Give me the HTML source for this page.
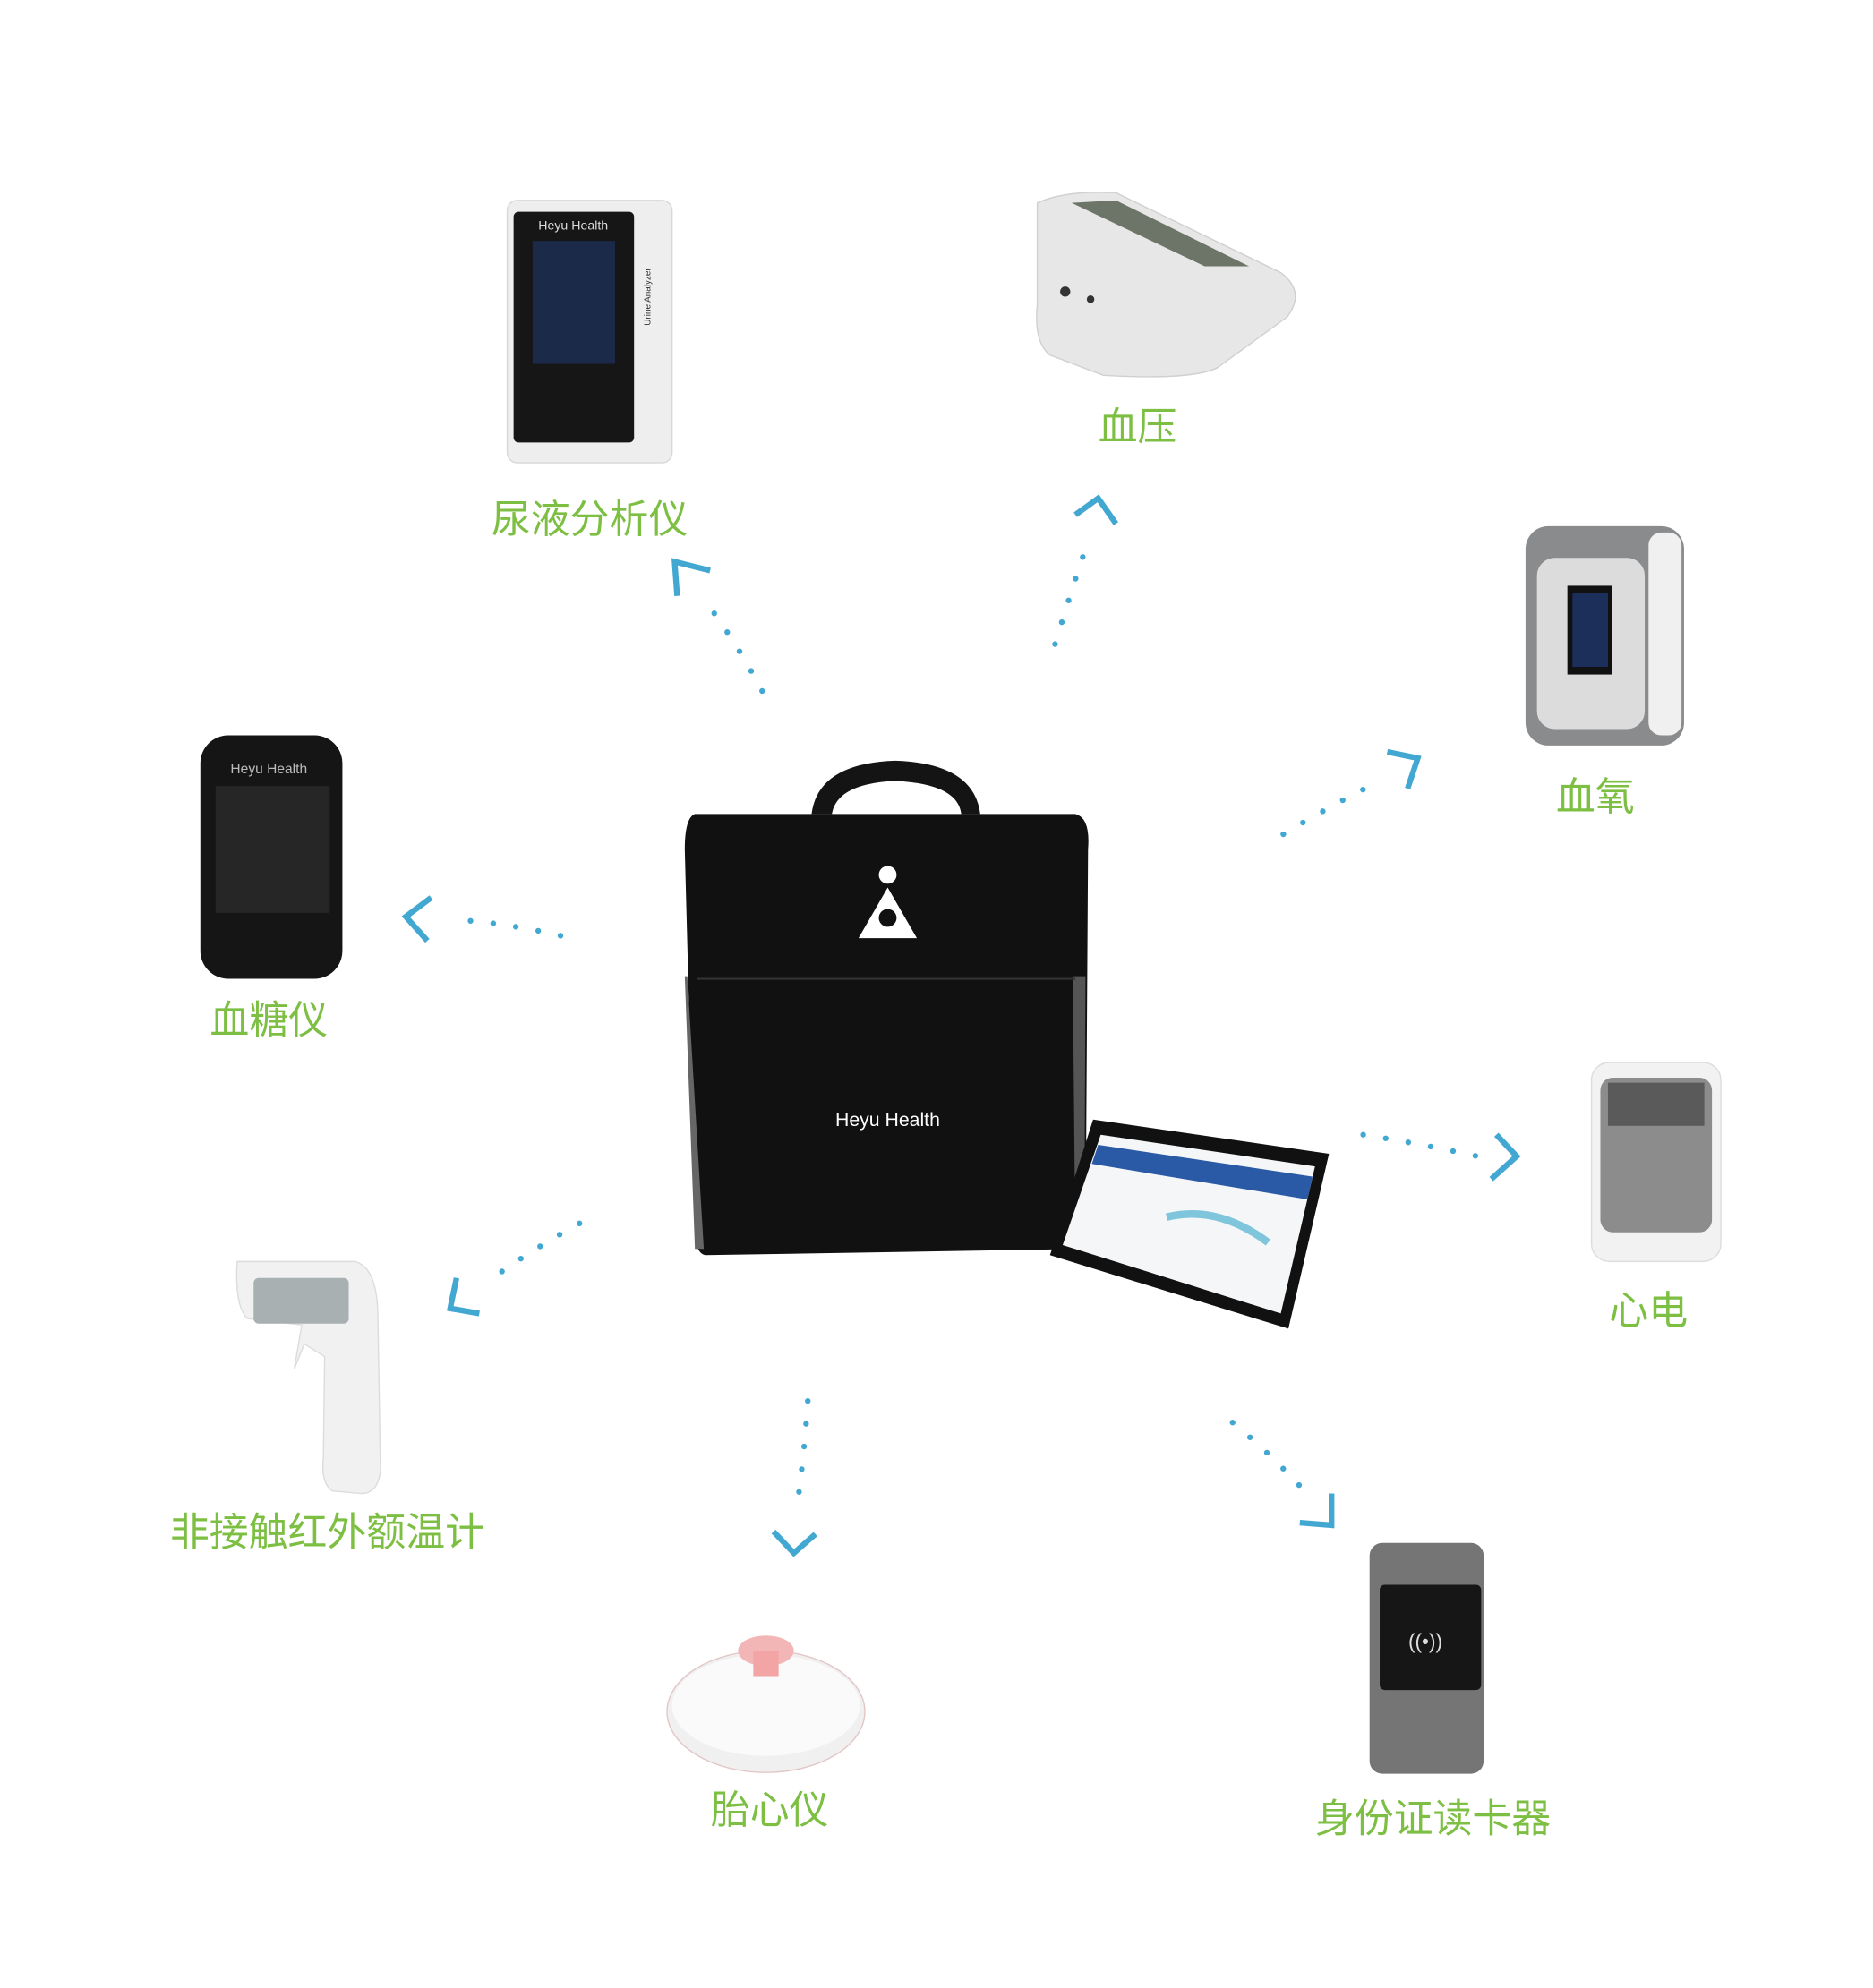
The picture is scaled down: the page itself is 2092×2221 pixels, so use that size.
<!DOCTYPE html>
<html><head><meta charset="utf-8"><style>
html,body{margin:0;padding:0;background:#fff;}
svg{display:block;}
.lb{font-family:"Liberation Sans","Noto Sans CJK SC",sans-serif;font-size:31px;fill:#7dbf42;text-anchor:middle;}
.d{stroke:#42a8d2;stroke-width:4.5;stroke-linecap:round;stroke-dasharray:0 18;fill:none;}
.c{stroke:#42a8d2;stroke-width:4.5;fill:none;}
</style></head><body>
<svg width="2092" height="2221" viewBox="0 0 1477 1568" xmlns="http://www.w3.org/2000/svg">
<rect width="1477" height="1568" fill="#fff"/>
<!-- Urine analyzer -->
<rect x="400" y="158" width="130" height="207" rx="8" fill="#eeeeee" stroke="#d8d8d8"/>
<rect x="405" y="167" width="95" height="182" rx="4" fill="#161616"/>
<rect x="420" y="190" width="65" height="97" fill="#1c2a4a"/>
<text x="452" y="181" font-family="Liberation Sans,sans-serif" font-size="10" fill="#ddd" text-anchor="middle">Heyu Health</text>
<text x="513" y="234" font-family="Liberation Sans,sans-serif" font-size="7" fill="#333" transform="rotate(-90 513 234)" text-anchor="middle">Urine Analyzer</text>
<!-- BP monitor -->
<path d="M818 160 Q840 150 880 152 L1010 215 Q1030 230 1015 250 L960 290 Q940 300 870 296 L828 280 Q815 270 818 240 Z" fill="#e6e7e6" stroke="#cfd1d0"/>
<path d="M845 160 L880 158 L985 210 L950 210 Z" fill="#6d7568"/>
<circle cx="840" cy="230" r="4" fill="#333"/><circle cx="860" cy="236" r="3" fill="#333"/>
<!-- Oximeter -->
<rect x="1203" y="415" width="125" height="173" rx="18" fill="#8a8b8d"/>
<rect x="1212" y="440" width="85" height="135" rx="14" fill="#dcdcdc"/>
<rect x="1300" y="420" width="26" height="160" rx="10" fill="#f0f0f0"/>
<rect x="1236" y="462" width="35" height="70" fill="#111"/>
<rect x="1240" y="468" width="28" height="58" fill="#1b2f5a"/>
<!-- Glucose -->
<rect x="158" y="580" width="112" height="192" rx="22" fill="#151515"/>
<rect x="170" y="620" width="90" height="100" fill="#262626"/>
<text x="212" y="610" font-family="Liberation Sans,sans-serif" font-size="11" fill="#bbb" text-anchor="middle">Heyu Health</text>
<!-- ECG -->
<rect x="1255" y="838" width="102" height="157" rx="14" fill="#f2f2f2" stroke="#ddd"/>
<rect x="1262" y="850" width="88" height="122" rx="10" fill="#8c8c8c"/>
<rect x="1268" y="854" width="76" height="34" fill="#5a5a5a"/>
<!-- Thermometer -->
<path d="M187 995 L280 995 Q298 1000 298 1040 L300 1160 Q298 1178 285 1178 L262 1176 Q253 1170 255 1150 L256 1070 L240 1060 L232 1080 L238 1045 L195 1040 Q185 1030 187 995 Z" fill="#f1f1f1" stroke="#dcdcdc"/>
<rect x="200" y="1008" width="75" height="36" rx="4" fill="#a9b0b2"/>
<!-- Fetal -->
<ellipse cx="604" cy="1350" rx="78" ry="48" fill="#f0f0f0" stroke="#e3c7c7"/>
<ellipse cx="604" cy="1345" rx="74" ry="40" fill="#fafafa"/>
<ellipse cx="604" cy="1302" rx="22" ry="12" fill="#f3b6b6"/>
<rect x="594" y="1302" width="20" height="20" fill="#f3a5a5"/>
<!-- ID reader -->
<rect x="1080" y="1217" width="90" height="182" rx="10" fill="#757575"/>
<rect x="1088" y="1250" width="80" height="83" rx="4" fill="#161616"/>
<text x="1124" y="1300" font-family="Liberation Sans,sans-serif" font-size="16" fill="#ddd" text-anchor="middle">((•))</text>
<!-- Bag -->
<path d="M640 642 Q645 602 706 600 Q768 602 773 642 L758 642 Q755 618 706 616 Q660 618 656 642 Z" fill="#141414"/>
<path d="M548 642 L848 642 Q860 645 858 670 L856 985 L556 990 Q548 988 548 970 L540 670 Q540 645 548 642 Z" fill="#111"/>
<path d="M542 770 L555 985 L548 985 L540 770Z" fill="#666"/>
<path d="M846 770 L856 770 L855 985 L848 985Z" fill="#555"/>
<line x1="550" y1="772" x2="848" y2="772" stroke="#333" stroke-width="1.5"/>
<circle cx="700" cy="690" r="7" fill="#fff"/>
<path d="M700 700 L677 740 L723 740 Z" fill="#fff"/>
<circle cx="700" cy="724" r="7" fill="#111"/>
<text x="700" y="888" font-family="Liberation Sans,sans-serif" font-size="15" fill="#fff" text-anchor="middle">Heyu Health</text>
<!-- Tablet -->
<path d="M862 883 L1048 910 L1016 1048 L828 990 Z" fill="#111"/>
<path d="M868 895 L1037 920 L1010 1036 L838 982 Z" fill="#f4f6f8"/>
<path d="M866 903 L1035 928 L1031 946 L861 918 Z" fill="#2a5aa5"/>
<path d="M920 960 Q960 950 1000 980" stroke="#7fc6dd" stroke-width="6" fill="none"/>
<!-- Labels -->
<text class="lb" x="465" y="420">尿液分析仪</text>
<text class="lb" x="897" y="347">血压</text>
<text class="lb" x="1258" y="639">血氧</text>
<text class="lb" x="212" y="815">血糖仪</text>
<text class="lb" x="1300" y="1044">心电</text>
<text class="lb" x="258" y="1219">非接触红外额温计</text>
<text class="lb" x="607" y="1438">胎心仪</text>
<text class="lb" x="1130" y="1445">身份证读卡器</text>
<!-- Arrows -->
<path class="d" d="M601 545 Q580 505 553 470"/>
<path class="c" d="M560 450 L532 443 L534 470"/>
<path class="d" d="M832 508 Q845 465 859 424"/>
<path class="c" d="M848 406 L866 393 L880 413"/>
<path class="d" d="M1012 658 Q1050 635 1090 615"/>
<path class="c" d="M1094 593 L1118 598 L1110 622"/>
<path class="d" d="M442 738 Q400 728 355 725"/>
<path class="c" d="M340 708 L320 723 L337 742"/>
<path class="d" d="M1075 895 Q1120 902 1165 912"/>
<path class="c" d="M1180 895 L1196 912 L1176 930"/>
<path class="d" d="M457 965 Q420 985 383 1012"/>
<path class="c" d="M360 1008 L355 1032 L378 1036"/>
<path class="d" d="M637 1105 Q634 1150 628 1192"/>
<path class="c" d="M610 1208 L626 1225 L643 1210"/>
<path class="d" d="M972 1122 Q1000 1145 1025 1172"/>
<path class="c" d="M1025 1201 L1050 1203 L1050 1178"/>
</svg>
</body></html>
